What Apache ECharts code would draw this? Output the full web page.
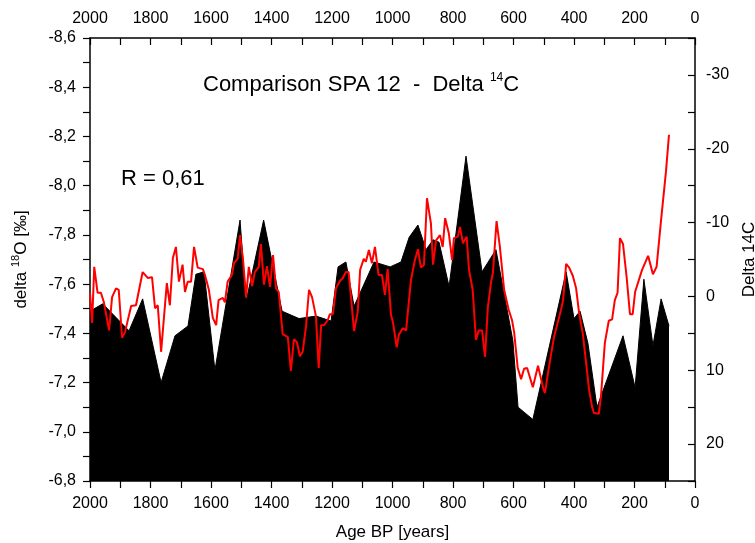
<!DOCTYPE html>
<html>
<head>
<meta charset="utf-8">
<script src="https://cdn.jsdelivr.net/npm/echarts@6/dist/echarts.min.js"></script>
<style>
html,body{margin:0;padding:0;background:#fff;}
#chart{width:755px;height:543px;}
</style>
</head>
<body>
<div id="chart"></div>
<script>
// delta 18O (black area), left axis
const o18Age = [2000,1958,1871,1826,1765,1719,1676,1650,1623,1587,1504,1484,1426,1365,1309,1253,1203,1180,1154,1127,1061,1008,972,945,916,889,866,846,813,757,704,658,602,585,536,426,400,380,354,324,238,198,169,139,112,86];
const o18Val = [-7.49,-7.52,-7.41,-7.54,-7.20,-7.39,-7.43,-7.64,-7.65,-7.25,-7.86,-7.53,-7.86,-7.49,-7.46,-7.47,-7.45,-7.67,-7.69,-7.51,-7.69,-7.67,-7.69,-7.79,-7.84,-7.74,-7.78,-7.77,-7.59,-8.12,-7.65,-7.74,-7.37,-7.10,-7.05,-7.65,-7.46,-7.49,-7.36,-7.10,-7.39,-7.18,-7.62,-7.35,-7.54,-7.43];

// Delta 14C (red line), right axis
const c14Age = [2000,1993,1986,1975,1964,1954,1937,1927,1914,1905,1894,1884,1864,1848,1826,1809,1795,1785,1776,1765,1746,1736,1726,1716,1706,1694,1686,1677,1666,1656,1644,1627,1620,1607,1594,1583,1575,1561,1554,1545,1531,1524,1512,1504,1494,1484,1475,1464,1455,1442,1435,1425,1415,1405,1395,1385,1376,1363,1346,1336,1326,1316,1306,1297,1286,1276,1266,1253,1244,1236,1226,1214,1207,1197,1187,1174,1164,1154,1145,1137,1127,1115,1107,1095,1088,1078,1068,1058,1046,1035,1025,1016,1005,998,986,979,966,955,939,926,916,906,896,886,873,866,856,843,834,826,814,803,797,784,777,767,755,747,735,724,715,704,694,685,674,668,656,645,631,616,605,598,586,575,565,555,536,519,502,496,483,466,443,436,426,416,404,393,383,371,360,350,340,334,318,311,298,285,274,265,256,248,238,226,215,206,198,175,155,139,127,112,96,86];
const c14Val = [-0.5,3.6,-4.0,-0.5,-0.5,0.8,4.6,0.1,-1.1,-0.9,5.6,4.8,1.3,1.2,-3.3,-2.5,-2.6,1.6,1.2,7.5,-1.8,1.2,-5.2,-6.7,-2.0,-4.3,-0.6,-2.0,-2.0,-6.7,-3.9,-3.7,-2.9,-0.9,2.9,3.9,0.5,0.2,0.8,-2.0,-2.9,-4.5,-5.1,-8.3,-4.9,0.1,-4.0,-1.4,-3.3,-4.0,-7.1,-1.6,-4.1,-1.3,-5.6,-1.1,-0.6,5.1,5.5,10.1,5.8,6.2,8.1,7.5,4.1,-0.9,0.1,2.7,9.7,3.9,3.9,3.2,2.4,2.4,-1.1,-2.1,-2.5,-3.3,-3.3,0.2,4.7,2.1,-3.6,-5.1,-4.7,-6.3,-4.5,-6.7,-2.9,-2.9,-0.2,-3.7,2.5,3.6,6.9,5.2,4.3,4.6,-2.2,-4.9,-6.4,-3.9,-4.3,-13.3,-9.9,-4.3,-7.6,-8.3,-6.7,-10.6,-8.6,-4.9,-7.9,-8.1,-9.4,-7.2,-8.1,-3.6,-0.9,5.9,4.6,4.6,8.2,1.6,-2.0,-3.2,-10.2,-6.7,-0.9,1.8,3.2,4.8,9.7,11.2,9.8,9.7,12.3,9.4,12.4,13.1,9.6,5.5,1.8,0.5,-4.4,-3.9,-2.8,-1.1,2.3,5.0,9.0,12.7,15.0,15.8,15.9,13.6,6.3,3.3,3.1,0.5,-0.5,-7.9,-7.1,-2.6,2.4,2.4,-0.6,-3.6,-5.5,-3.0,-4.0,-10.4,-16.9,-21.9];

const xTickLabels = ['2000','1800','1600','1400','1200','1000','800','600','400','200','0'];

const FONT = 'Liberation Sans, Arial, sans-serif';
const o18Data = o18Age.map((a, i) => [a, o18Val[i]]);
const c14Data = c14Age.map((a, i) => [a, c14Val[i]]);

const axisLineStyle = { color: '#000', width: 1.5 };
function xLabel(v) {
  const s = String(Math.round(v));
  return xTickLabels.indexOf(s) >= 0 ? s : '';
}
function xCommon(extra) {
  return Object.assign({
    type: 'value', min: 0, max: 2000, interval: 100, inverse: true,
    axisLine: { show: true, onZero: false, lineStyle: axisLineStyle },
    splitLine: { show: false }
  }, extra);
}

const chart = echarts.init(document.getElementById('chart'), null, { renderer: 'canvas' });
chart.setOption({
  animation: false,
  backgroundColor: '#fff',
  grid: { left: 90, right: 60, top: 38, bottom: 62, containLabel: false, outerBoundsMode: 'none' },
  xAxis: [
    xCommon({
      position: 'bottom',
      name: 'Age BP [years]', nameLocation: 'middle', nameGap: 43,
      nameTextStyle: { color: '#000', fontSize: 17, fontFamily: FONT },
      axisTick: { show: true, inside: false, length: 7, lineStyle: { color: '#000', width: 1.2 } },
      axisLabel: { formatter: xLabel, color: '#000', fontSize: 16, fontFamily: FONT, margin: 15 }
    }),
    xCommon({
      position: 'top',
      axisTick: { show: true, inside: true, length: 7, lineStyle: { color: '#000', width: 1.2 } },
      axisLabel: { formatter: xLabel, color: '#000', fontSize: 16, fontFamily: FONT, margin: 11 }
    })
  ],
  yAxis: [
    {
      type: 'value', min: -8.6, max: -6.8, interval: 0.1, inverse: true, position: 'left',
      axisLine: { show: true, onZero: false, lineStyle: axisLineStyle },
      splitLine: { show: false },
      axisTick: { show: true, inside: false, length: 7, lineStyle: { color: '#000', width: 1.2 } },
      axisLabel: {
        color: '#000', fontSize: 16, fontFamily: FONT, margin: 14,
        formatter: function (v) {
          const k = Math.round(v * 10);
          if (Math.abs(k) % 2 !== 0) return '';
          return (k / 10).toFixed(1).replace('.', ',');
        }
      },
      name: 'delta {sup|18}O [‰]', nameLocation: 'middle', nameGap: 58, nameRotate: 90,
      nameTextStyle: {
        color: '#000', fontSize: 17, fontFamily: FONT,
        rich: { sup: { fontSize: 11, fontFamily: FONT, color: '#000', verticalAlign: 'top', lineHeight: 22 } }
      }
    },
    {
      type: 'value', min: -35, max: 25, interval: 5, inverse: true, position: 'right',
      axisLine: { show: true, onZero: false, lineStyle: axisLineStyle },
      splitLine: { show: false },
      axisTick: { show: true, inside: true, length: 7, lineStyle: { color: '#000', width: 1.2 } },
      axisLabel: {
        color: '#000', fontSize: 16, fontFamily: FONT, margin: 11,
        formatter: function (v) { return (Math.round(v) % 10 === 0) ? String(Math.round(v)) : ''; }
      },
      name: 'Delta 14C', nameLocation: 'middle', nameGap: 46, nameRotate: 90,
      nameTextStyle: { color: '#000', fontSize: 17, fontFamily: FONT }
    }
  ],
  series: [
    {
      type: 'line', xAxisIndex: 0, yAxisIndex: 0, data: o18Data,
      symbol: 'none', lineStyle: { color: '#000', width: 1 },
      areaStyle: { color: '#000', opacity: 1, origin: 'end' }, z: 2
    },
    {
      type: 'line', xAxisIndex: 0, yAxisIndex: 1, data: c14Data,
      symbol: 'none', lineStyle: { color: '#ff0000', width: 2 }, z: 3
    }
  ],
  graphic: [
    {
      type: 'text', left: 203, top: 72, z: 10,
      style: {
        text: 'Comparison SPA 12  -  Delta {sup|14}C',
        fill: '#000', fontSize: 22, fontFamily: FONT,
        rich: { sup: { fontSize: 12, fontFamily: FONT, fill: '#000', verticalAlign: 'top', lineHeight: 26 } }
      }
    },
    {
      type: 'text', left: 121, top: 168, z: 10,
      style: { text: 'R = 0,61', fill: '#000', fontSize: 22, fontFamily: FONT }
    }
  ]
});
</script>
</body>
</html>
